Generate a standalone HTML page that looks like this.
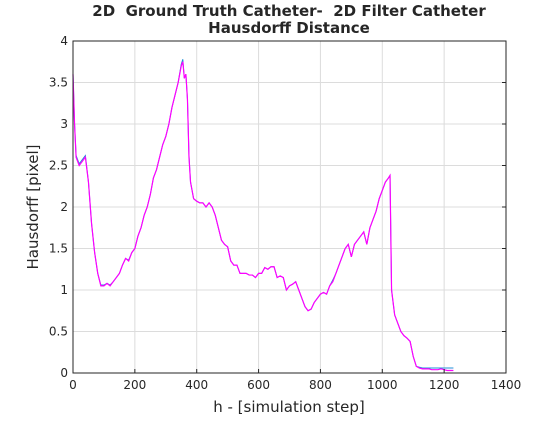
<!DOCTYPE html>
<html><head><meta charset="utf-8"><style>
body{margin:0;background:#fff;font-family:"DejaVu Sans",sans-serif}
svg text{font-family:"DejaVu Sans",sans-serif;fill:#262626;white-space:pre}
</style></head><body>
<svg id="c" width="560" height="420" viewBox="0 0 560 420">
<rect x="0" y="0" width="560" height="420" fill="#fff"/>
<text x="289" y="16" text-anchor="middle" font-size="15" font-weight="bold" fill="#000" xml:space="preserve">2D  Ground Truth Catheter-  2D Filter Catheter</text>
<text x="289" y="33" text-anchor="middle" font-size="15" font-weight="bold" fill="#000">Hausdorff Distance</text>
<g id="grid"></g><g id="series"></g><g id="axes"></g>
<text x="289" y="412" text-anchor="middle" font-size="15">h - [simulation step]</text>
<text transform="translate(38,207) rotate(-90)" text-anchor="middle" font-size="15">Hausdorff [pixel]</text>
</svg>
<script>
const xTicks=[0,200,400,600,800,1000,1200,1400];
const yTicks=[0,0.5,1,1.5,2,2.5,3,3.5,4];
const yTickLabels=["0","0.5","1","1.5","2","2.5","3","3.5","4"];
const steps=[0,5,10,20,30,40,50,60,70,80,90,100,110,120,130,140,150,160,170,180,190,200,210,220,230,240,250,260,270,280,290,300,310,320,330,340,350,355,360,365,370,375,380,390,400,410,420,430,440,450,460,470,480,490,500,510,520,530,540,550,560,570,580,590,600,610,620,630,640,650,660,670,680,690,700,710,720,730,740,750,760,770,780,790,800,810,820,830,840,850,860,870,880,890,900,910,920,930,940,950,960,970,980,990,1000,1010,1020,1025,1030,1040,1050,1060,1070,1080,1090,1100,1110,1120,1130,1140,1150,1160,1170,1180,1190,1200,1210,1220,1230];
const filterHd=[3.6,3.0,2.6,2.5,2.55,2.6,2.3,1.8,1.45,1.2,1.05,1.05,1.08,1.05,1.1,1.15,1.2,1.3,1.38,1.35,1.45,1.5,1.65,1.75,1.9,2.0,2.15,2.35,2.45,2.6,2.75,2.85,3.0,3.2,3.35,3.5,3.7,3.75,3.55,3.6,3.3,2.6,2.3,2.1,2.07,2.05,2.05,2.0,2.05,2.0,1.9,1.75,1.6,1.55,1.52,1.35,1.3,1.3,1.2,1.2,1.2,1.18,1.18,1.15,1.2,1.2,1.27,1.25,1.28,1.28,1.15,1.17,1.15,1.0,1.05,1.07,1.1,1.0,0.9,0.8,0.75,0.77,0.85,0.9,0.95,0.97,0.95,1.05,1.1,1.2,1.3,1.4,1.5,1.55,1.4,1.55,1.6,1.65,1.7,1.55,1.75,1.85,1.95,2.1,2.2,2.3,2.35,2.38,1.0,0.7,0.6,0.5,0.45,0.42,0.38,0.2,0.08,0.06,0.05,0.05,0.05,0.04,0.04,0.04,0.05,0.04,0.03,0.03,0.03];
const altHd=[3.6,3.0,2.62,2.52,2.57,2.62,2.3,1.8,1.45,1.2,1.06,1.06,1.08,1.06,1.1,1.15,1.2,1.3,1.38,1.36,1.45,1.5,1.65,1.75,1.9,2.0,2.15,2.35,2.45,2.6,2.75,2.85,3.0,3.2,3.35,3.5,3.72,3.78,3.55,3.6,3.3,2.62,2.3,2.1,2.07,2.05,2.05,2.0,2.05,2.0,1.9,1.75,1.6,1.55,1.52,1.35,1.3,1.3,1.2,1.2,1.2,1.18,1.18,1.15,1.2,1.2,1.27,1.25,1.28,1.28,1.15,1.17,1.15,1.0,1.05,1.07,1.1,1.0,0.9,0.8,0.75,0.77,0.85,0.9,0.95,0.97,0.95,1.05,1.12,1.2,1.3,1.4,1.5,1.55,1.4,1.55,1.6,1.65,1.7,1.55,1.75,1.85,1.95,2.1,2.2,2.3,2.35,2.38,1.0,0.7,0.6,0.5,0.45,0.42,0.38,0.2,0.08,0.07,0.06,0.06,0.06,0.06,0.06,0.06,0.06,0.06,0.06,0.06,0.06];
const L=73,R=506,T=41,B=373;
function sx(v){return L+(v-0)/(1400-0)*(R-L);}
function sy(v){return B-(v-0)/(4-0)*(B-T);}
const NS="http://www.w3.org/2000/svg";
function mk(tag,attrs,parent){const e=document.createElementNS(NS,tag);for(const k in attrs)e.setAttribute(k,attrs[k]);parent.appendChild(e);return e;}
const grid=document.getElementById('grid'),axes=document.getElementById('axes'),series=document.getElementById('series');
xTicks.forEach(t=>{
  const g=mk('line',{x1:sx(t),x2:sx(t),y1:T,y2:B,stroke:'#dcdcdc','stroke-width':1},grid);
  
  
  const tk=mk('line',{x1:sx(t),x2:sx(t),y1:B,y2:B-4,stroke:'#262626'},axes);
  
  
  const lb=mk('text',{x:sx(t),y:B+16,'text-anchor':'middle','font-size':12},axes);
  lb.textContent=t;
  
  
});
yTicks.forEach((t,i)=>{
  const g=mk('line',{x1:L,x2:R,y1:sy(t),y2:sy(t),stroke:'#dcdcdc','stroke-width':1},grid);
  
  
  const tk=mk('line',{x1:R,x2:R-4,y1:sy(t),y2:sy(t),stroke:'#262626'},axes);
  
  
  const lb=mk('text',{x:L-5,y:sy(t)+4,'text-anchor':'end','font-size':12},axes);
  lb.textContent=yTickLabels[i];
  
  
});
const box=mk('rect',{x:L,y:T,width:R-L,height:B-T,fill:'none',stroke:'#262626','stroke-width':1},axes);


function line(vals,color,w){
  const d=steps.map((s,i)=>(i?'L':'M')+sx(s).toFixed(2)+','+sy(vals[i]).toFixed(2)).join('');
  return mk('path',{d:d,fill:'none',stroke:color,'stroke-width':w},series);
}
const p1=line(altHd,'#1f8fd8',1);


const p2=line(filterHd,'#ff00ff',1.2);


</script>
</body></html>
